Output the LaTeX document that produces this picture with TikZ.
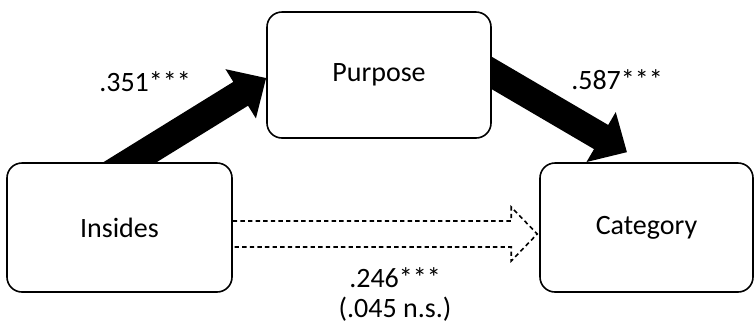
\documentclass[tikz,border=0pt]{standalone}
\usepackage{fontspec}
\setmainfont{Carlito}
\usetikzlibrary{arrows.meta, calc, backgrounds}

\begin{document}
\begin{tikzpicture}[
  x=0.5pt, y=-0.5pt,
  font=\fontsize{14}{15}\selectfont,
  varbox/.style={
    draw, rounded corners=7.5pt, fill=white,
    line width=0.8pt, minimum height=64.5pt
  },
  bigarrow/.style={
    line width=14pt, -{Triangle[length=15pt, width=28pt]}
  },
  hollow/.style={
    line width=0.8pt, dash pattern=on 2.2pt off 1.6pt
  }
  ]
  \useasboundingbox (0,0) rectangle (755,323);

  \node[varbox, minimum width=112.5pt] (insides) at (119.5,227.5) {Insides};
  \node[varbox, minimum width=112pt, minimum height=63pt] (purpose) at (379,75) {Purpose};
  \node[varbox, minimum width=106.5pt] (category) at (646.5,227.5) {Category};

  % thick paths
  \coordinate (a1s) at ($(insides.north)+(10.5,0)$);
  \coordinate (a1e) at ($(purpose.west)+(0,3)$);
  \coordinate (a2s) at ($(purpose.east)+(0,-2)$);
  \coordinate (a2e) at ($(category.north)+(-19.5,-10)$);
  \begin{scope}[on background layer]
    \draw[bigarrow] ($(a1s)!-0.2!(a1e)$) -- (a1e);
    \draw[bigarrow] ($(a2s)!-0.2!(a2e)$) -- (a2e);
  \end{scope}

  % direct path
  \draw[hollow] ($(insides.east)+(0,-6.5)$) -- ($(category.west)+(-28,-6.5)$)
    -- ++(0,-14) -- ($(category.west)+(-2,6.5)$) -- ($(category.west)+(-28,33.5)$)
    -- ++(0,-14) -- ($(insides.east)+(0,19.5)$);

  \node (wa) at (145,82) {.351***};
  \node (wb) at (617,80) {.587***};
  \node[align=center] (wc) at (395,294) {.246***\\(.045 n.s.)};
\end{tikzpicture}
\end{document}
